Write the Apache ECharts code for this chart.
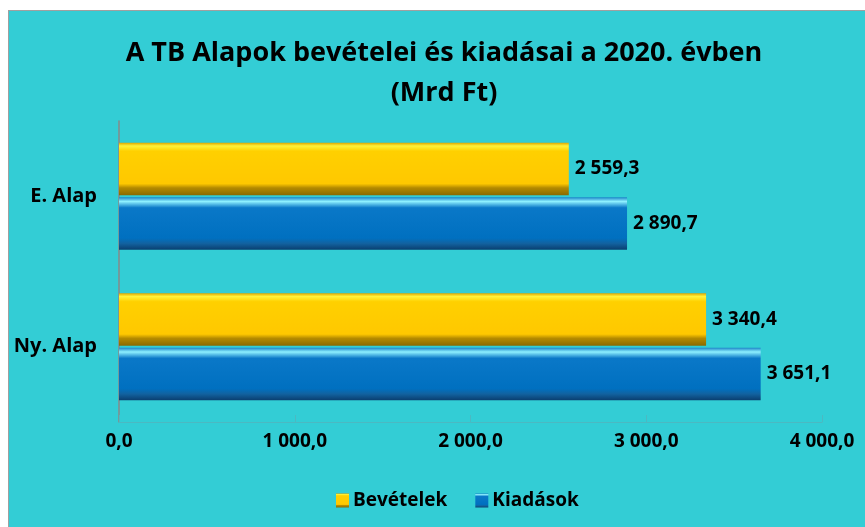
<!DOCTYPE html>
<html>
<head>
<meta charset="utf-8">
<script src="https://cdn.jsdelivr.net/npm/echarts@6/dist/echarts.min.js"></script>
<style>
  html, body { margin: 0; padding: 0; background: #fff; }
  #chart {
    position: absolute; left: 8px; top: 10px; width: 870px; height: 530px;
    border-left: 1px solid #a0a0a0; border-top: 1px solid #a0a0a0;
    background: #33cdd5;
  }
</style>
</head>
<body>
<div id="chart"></div>
<script>
// A TB Alapok bevételei és kiadásai a 2020. évben
const categories = ['Ny. Alap', 'E. Alap'];
const bevetelek = [3340.4, 2559.3];
const kiadasok = [3651.1, 2890.7];
const xTicks = [0, 1000, 2000, 3000, 4000];

function huNum(v) {
  const parts = v.toFixed(1).split('.');
  return parts[0].replace(/\B(?=(\d{3})+(?!\d))/g, ' ') + ',' + parts[1];
}

const yellowGrad = new echarts.graphic.LinearGradient(0, 0, 0, 1, [
  { offset: 0, color: '#e0a800' },
  { offset: 0.06, color: '#fff23a' },
  { offset: 0.16, color: '#ffd000' },
  { offset: 0.78, color: '#ffc800' },
  { offset: 0.86, color: '#b48a00' },
  { offset: 1, color: '#8a6a00' }
]);
const blueGrad = new echarts.graphic.LinearGradient(0, 0, 0, 1, [
  { offset: 0, color: '#1c84c8' },
  { offset: 0.08, color: '#8ef0ff' },
  { offset: 0.2, color: '#0a78c8' },
  { offset: 0.78, color: '#0070c0' },
  { offset: 0.88, color: '#1262a0' },
  { offset: 1, color: '#0a3f70' }
]);

const font = '"Open Sans", "Liberation Sans", sans-serif';
const labelStyle = { fontSize: 19, fontWeight: 'bold', color: '#000', fontFamily: font };
const chart = echarts.init(document.getElementById('chart'));
chart.setOption({
  backgroundColor: 'transparent',
  textStyle: { fontFamily: font },
  title: {
    text: 'A TB Alapok bevételei és kiadásai a 2020. évben\n(Mrd Ft)',
    left: 430, top: 17, textAlign: 'center',
    textStyle: { fontSize: 27, fontWeight: 'bold', color: '#000', lineHeight: 40, fontFamily: font }
  },
  legend: {
    data: ['Bevételek', 'Kiadások'],
    left: 322, top: 475,
    itemWidth: 13, itemHeight: 14, itemGap: 28,
    icon: 'rect',
    textStyle: Object.assign({ padding: [0, 0, 0, -1] }, labelStyle)
  },
  grid: { left: 110, right: 57, top: 110, bottom: 119 },
  xAxis: {
    type: 'value', min: 0, max: 4000, interval: 1000,
    axisLine: { show: true, lineStyle: { color: '#4bb9c2' } },
    axisTick: { show: true, inside: true, length: 7, lineStyle: { color: '#4bb9c2' } },
    splitLine: { show: false },
    axisLabel: Object.assign({ margin: 10, formatter: v => huNum(v) }, labelStyle)
  },
  yAxis: {
    type: 'category', data: categories,
    axisLine: { show: true, lineStyle: { color: '#888', width: 1.5 } },
    axisTick: { show: false },
    axisLabel: Object.assign({ margin: 22 }, labelStyle, { fontSize: 20 })
  },
  series: [
    {
      name: 'Bevételek', type: 'bar', data: bevetelek,
      barCategoryGap: '29%', barGap: '4%',
      itemStyle: { color: yellowGrad },
      label: Object.assign({ show: true, position: 'right', distance: 6, formatter: p => huNum(p.value) }, labelStyle)
    },
    {
      name: 'Kiadások', type: 'bar', data: kiadasok,
      barCategoryGap: '29%', barGap: '4%',
      itemStyle: { color: blueGrad },
      label: Object.assign({ show: true, position: 'right', distance: 6, formatter: p => huNum(p.value) }, labelStyle)
    }
  ]
});
</script>
</body>
</html>
